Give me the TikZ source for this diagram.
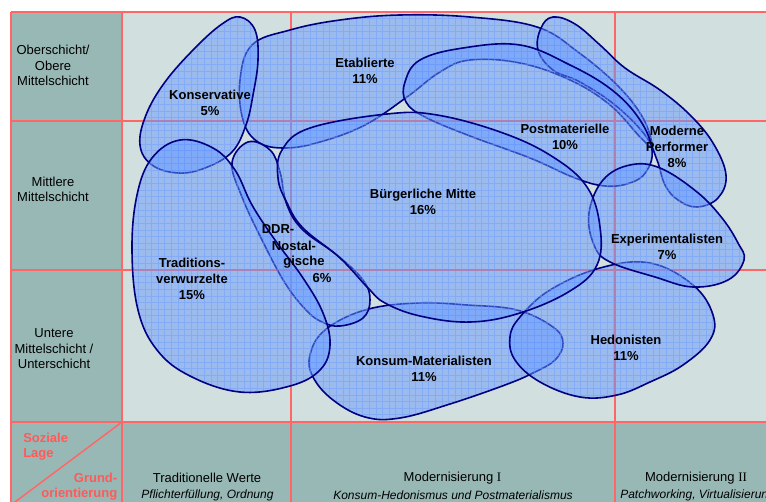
\documentclass[tikz,border=0pt]{standalone}
\usepackage{fontspec}
\setmainfont{Liberation Sans}
\newfontfamily\romanI{Liberation Serif}
\definecolor{navy}{HTML}{000080}
\definecolor{gridred}{HTML}{FF6666}
\definecolor{darkteal}{HTML}{98B8B5}
\definecolor{lightteal}{HTML}{D1DFDF}
\definecolor{blobblue}{HTML}{6699FF}
\definecolor{labelred}{HTML}{FF5A5A}
\tikzset{
  blobfill/.style={fill=blobblue, fill opacity=0.5},
  blobgrid/.style={draw=blobblue, opacity=0.45, line width=0.45pt},
  blobline/.style={draw=navy, line width=1.2pt},
  redline/.style={draw=gridred, line width=1.1pt},
  lbl/.style={font=\bfseries\fontsize{9.75}{12}\selectfont, align=center, text=black, inner sep=0pt},
  side/.style={font=\fontsize{9.75}{11.6}\selectfont, align=center, inner sep=0pt},
  sideit/.style={font=\itshape\fontsize{9}{11}\selectfont, align=center, inner sep=0pt},
  redlbl/.style={font=\bfseries\fontsize{9.75}{11.6}\selectfont, text=labelred, inner sep=0pt},
}
\newcommand\blob[1]{%
  \path[blobfill] plot[smooth cycle, tension=0.65] coordinates {#1};
  \begin{scope}
    \clip plot[smooth cycle, tension=0.65] coordinates {#1};
    \draw[blobgrid] \foreach \i in {0,...,97}{(125+6.6*\i,10) -- ++(0,420)}
                    \foreach \j in {0,...,64}{(120,12+6.6*\j) -- ++(650,0)};
  \end{scope}
  \draw[blobline] plot[smooth cycle, tension=0.65] coordinates {#1};
}
\begin{document}
\begin{tikzpicture}[x=0.75pt,y=-0.75pt]
\useasboundingbox (0,0) rectangle (766,502);
\fill[white] (0,0) rectangle (766,502);
% backgrounds
\fill[lightteal] (122,12) rectangle (766,422);
\fill[darkteal] (11,12) rectangle (122,422);
\fill[darkteal] (11,422) rectangle (766,510);
% red grid
\foreach \yy in {12,121,270,422} \draw[redline] (11,\yy) -- (766,\yy);
\foreach \xx in {11,122,291,615} \draw[redline] (\xx,12) -- (\xx,510);
\draw[redline] (122,422) -- (11,505);

% blobs
% Etablierte
\blob{(243,120) (240,80) (252,45) (290,30) (340,20) (400,15) (470,17) (537,27) (578,52) (618,86) (643,118) (652,146) (641,138) (610,105) (570,80) (520,63) (470,60) (440,72) (407,97) (365,125) (320,142) (285,148) (258,142)}
% Moderne Performer
\blob{(553,17) (575,24) (600,45) (625,68) (660,90) (690,115) (713,143) (726,175) (718,198) (697,207) (678,200) (665,185) (657,160) (645,135) (615,105) (580,82) (553,70) (538,50) (541,28)}
% Postmaterielle
\blob{(405,82) (420,60) (463,48) (520,45) (570,65) (612,90) (640,120) (652,150) (646,172) (630,183) (605,186) (575,178) (530,158) (470,136) (425,117) (406,102)}
% Konsum-Materialisten
\blob{(310,355) (325,330) (365,310) (417,303) (467,305) (517,310) (553,327) (563,343) (555,360) (533,373) (505,385) (450,404) (400,418) (365,417) (333,400) (313,377)}
% Hedonisten
\blob{(510,337) (520,317) (550,290) (600,268) (650,263) (693,285) (713,315) (710,340) (683,365) (650,382) (617,395) (580,397) (540,382) (515,360)}
% Experimentalisten
\blob{(589,213) (603,180) (630,165) (660,168) (697,192) (722,218) (738,243) (744,260) (728,280) (693,287) (655,277) (610,262) (594,245)}
% Konservative
\blob{(240,17) (255,30) (258,60) (253,95) (246,125) (232,152) (205,168) (178,173) (152,165) (140,145) (146,115) (165,82) (195,48) (222,24)}
% DDR-Nostalgische
\blob{(248,142) (270,150) (280,172) (287,205) (303,230) (337,255) (363,280) (370,300) (363,318) (340,326) (322,322) (306,310) (285,283) (262,240) (242,197) (232,163)}
% Traditionsverwurzelte
\blob{(180,140) (213,148) (235,170) (252,205) (275,240) (303,278) (323,313) (330,345) (320,370) (290,386) (240,392) (190,376) (157,350) (138,310) (132,250) (137,195) (152,158)}
% Buergerliche Mitte
\blob{(282,150) (310,128) (387,114) (437,115) (503,133) (553,157) (587,187) (600,227) (597,265) (570,291) (520,313) (470,322) (420,316) (385,303) (368,288) (340,258) (303,228) (287,203) (278,178)}

% blob labels
\node[lbl] (cons) at (210,103) {Konservative\\5\%};
\node[lbl] (etab) at (365,71) {Etablierte\\11\%};
\node[lbl] (post) at (565,137) {Postmaterielle\\10\%};
\node[lbl] (mope) at (677,147) {Moderne\\Performer\\8\%};
\node[lbl] (buer) at (423,202) {Bürgerliche Mitte\\16\%};
\node[lbl] (ddr1) at (278,229) {DDR-};
\node[lbl] (ddr2) at (294,246) {Nostal-};
\node[lbl] (ddr3) at (304,262) {gische};
\node[lbl] (ddr4) at (322,278) {6\%};
\node[lbl] (trad) at (192,279) {Traditions-\\verwurzelte\\15\%};
\node[lbl] (kons) at (424,369) {Konsum-Materialisten\\11\%};
\node[lbl] (hedo) at (626,348) {Hedonisten\\11\%};
\node[lbl] (expe) at (667,247) {Experimentalisten\\7\%};

% side labels
\node[side] (ober) at (53,65.5) {Oberschicht/\\Obere\\Mittelschicht};
\node[side] (mitt) at (53,189.5) {Mittlere\\Mittelschicht};
\node[side] (unte) at (54,349) {Untere\\Mittelschicht /\\Unterschicht};

% bottom labels
\node[redlbl, anchor=west, align=left] (soz) at (23,446.5) {Soziale\\Lage};
\node[redlbl, anchor=east, align=right] (gru) at (117.5,486.5) {Grund-\\orientierung};
\node[side] (tw) at (207,478) {Traditionelle Werte};
\node[sideit] (twi) at (207.5,495) {Pflichterfüllung, Ordnung};
\node[side] (m1) at (452.5,478) {Modernisierung {\romanI I}};
\node[sideit] (m1i) at (453,495) {Konsum-Hedonismus und Postmaterialismus};
\node[side] (m2) at (696,478) {Modernisierung {\romanI II}};
\node[sideit, anchor=west] (m2i) at (620,495) {Patchworking, Virtualisierung};
\end{tikzpicture}
\end{document}
